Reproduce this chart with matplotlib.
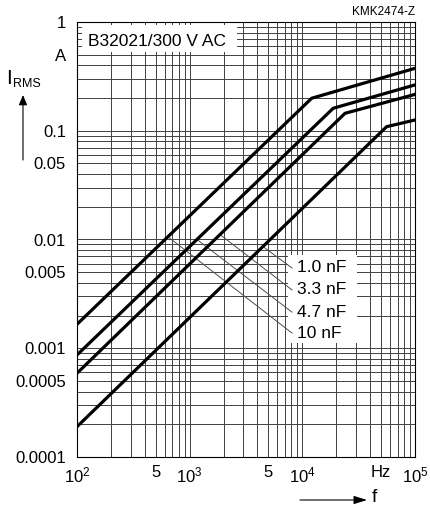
import numpy as np
import matplotlib
matplotlib.use("Agg")
import matplotlib.pyplot as plt
from matplotlib.patches import Rectangle

# curve data (f in Hz, I_RMS in A)
caps = ["10 nF", "4.7 nF", "3.3 nF", "1.0 nF"]
f_10n = [1e2, 12100, 1e5]
i_10n = [1.66e-3, 0.199, 0.375]
f_4n7 = [1e2, 18800, 1e5]
i_4n7 = [8.67e-4, 0.161, 0.264]
f_3n3 = [1e2, 23900, 1e5]
i_3n3 = [5.89e-4, 0.1446, 0.216]
f_1n0 = [1e2, 56000, 1e5]
i_1n0 = [1.90e-4, 0.109, 0.1256]

# leader lines: frequency where they touch the curve, label positions
lead_f = [641, 1161, 1858, 4470]
label_f = 8090
label_i = [1.38e-3, 2.15e-3, 3.44e-3, 5.47e-3]

xticks = [1e2, 5e2, 1e3, 5e3, 1e4, 5e4, 1e5]
xticklabels = [r"$10^2$", "5", r"$10^3$", "5", r"$10^4$", "Hz", r"$10^5$"]
yticks = [1e-4, 5e-4, 1e-3, 5e-3, 1e-2, 5e-2, 1e-1, 5e-1, 1]
yticklabels = ["0.0001", "0.0005", "0.001", "0.005", "0.01", "0.05", "0.1", "A", "1"]

plt.rcParams.update({'font.family': 'Liberation Sans'})
plt.rcParams.update({'mathtext.fontset': 'custom'})
plt.rcParams.update({'mathtext.rm': 'Liberation Sans'})
plt.rcParams.update({'mathtext.it': 'Liberation Sans:italic'})
plt.rcParams.update({'font.size': 12})

W, H = 431, 508
fig = plt.figure(figsize=(W/100., H/100.), dpi=100)
ax = fig.add_axes([77/W, 1-457/H, (415-77)/W, (457-22)/H])
ax.set_xscale('log')
ax.set_yscale('log')
ax.set_xlim(1e2, 1e5)
ax.set_ylim(1e-4, 1)

ax.grid(True, which='both', color='0.25', lw=0.7)
ax.set_axisbelow(True)
for s in ax.spines.values():
    s.set_linewidth(0.8)

ax.set_xticks(xticks)
ax.set_xticklabels(xticklabels)
ax.set_yticks(yticks)
ax.set_yticklabels(yticklabels)
ax.tick_params(which='both', length=0)
ax.tick_params(axis='x', pad=6, labelsize=12)
ax.tick_params(axis='y', pad=8, labelsize=12)

curves = [(f_10n, i_10n), (f_4n7, i_4n7), (f_3n3, i_3n3), (f_1n0, i_1n0)]
for fx, iy in curves:
    ax.plot(fx, iy, color='k', lw=2.3, solid_joinstyle='miter', zorder=4)

# white boxes behind the texts
ax.add_patch(Rectangle((5/338, 1-30/435), 155/338, 27/435, transform=ax.transAxes,
                       facecolor='white', edgecolor='none', zorder=2.5))
ax.add_patch(Rectangle((211/338, 1-321/435), 69/338, 88/435, transform=ax.transAxes,
                       facecolor='white', edgecolor='none', zorder=2.5))
ax.text(11/338, 1-20/435, "B32021/300 V AC", transform=ax.transAxes,
        fontsize=12.5, va='center', ha='left', zorder=5)

# labels with leaders (label order top to bottom is reversed)
for k, (fx, iy) in enumerate(curves):
    lf = lead_f[k]
    li = 10**np.interp(np.log10(lf), np.log10(fx), np.log10(iy))
    ax.plot([lf, label_f], [li, label_i[k]], color='0.3', lw=0.7, zorder=3)
    ax.text(label_f*1.11, label_i[k], caps[k], fontsize=12.5, va='center', ha='left', zorder=5)

fig.text(415/W, 1-12/H, "KMK2474-Z", fontsize=8.5, ha='right', va='center')

# y axis label with arrow
fig.text(6/W, 1-79/H, "I", fontsize=15, ha='left', va='center')
fig.text(13/W, 1-84/H, "RMS", fontsize=9, ha='left', va='center')
fig.add_artist(matplotlib.patches.FancyArrowPatch((23/W, 1-160/H), (23/W, 1-95/H),
               transform=fig.transFigure, arrowstyle='-|>,head_length=6,head_width=2.5',
               color='k', lw=0.8, shrinkA=0, shrinkB=0))

# x axis label with arrow
fig.text(374/W, 1-497/H, "f", fontsize=14, ha='center', va='center')
fig.add_artist(matplotlib.patches.FancyArrowPatch((300/W, 1-500/H), (367/W, 1-500/H),
               transform=fig.transFigure, arrowstyle='-|>,head_length=8,head_width=2.5',
               color='k', lw=0.8, shrinkA=0, shrinkB=0))

fig.savefig('out.png', dpi=100)
plt.close(fig)
